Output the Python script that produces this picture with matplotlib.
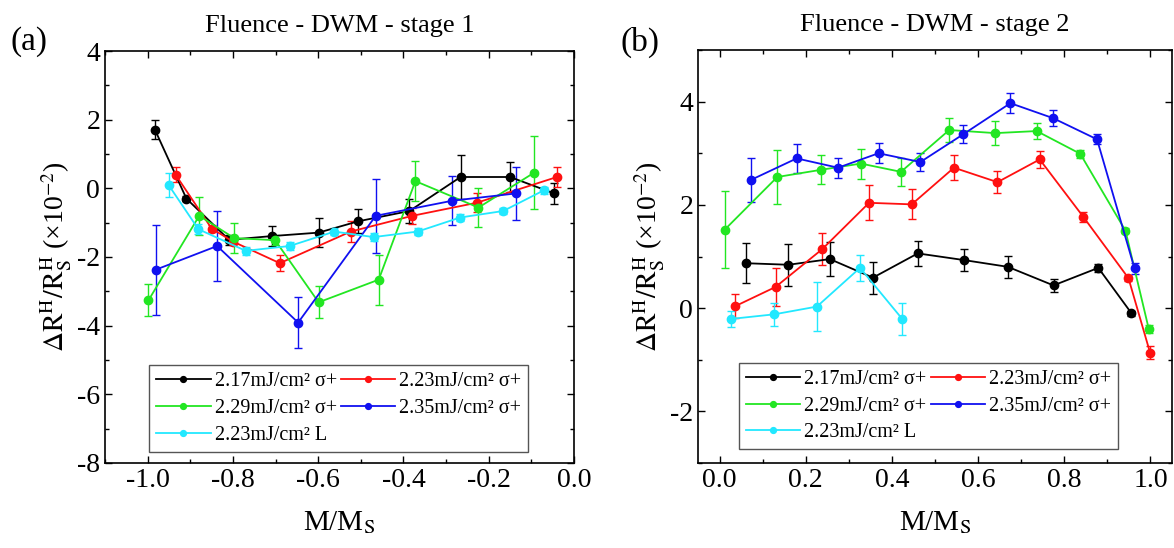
import numpy as np
import matplotlib.pyplot as plt
from matplotlib.ticker import MultipleLocator

plt.rcParams['font.family'] = ['Liberation Serif', 'DejaVu Serif']
plt.rcParams['mathtext.fontset'] = 'stix'
plt.rcParams['axes.unicode_minus'] = False

labels = ['2.17mJ/cm\u00b2 \u03c3+', '2.23mJ/cm\u00b2 \u03c3+', '2.29mJ/cm\u00b2 \u03c3+',
          '2.35mJ/cm\u00b2 \u03c3+', '2.23mJ/cm\u00b2 L']
colors = ['black', '#ff1010', '#22e622', '#1010f0', '#22e8ff']

# stage 1 (panel a)
a_x_k = [-0.983, -0.909, -0.809, -0.708, -0.599, -0.506, -0.386, -0.266, -0.150, -0.046]
a_y_k = [1.71, -0.30, -1.50, -1.39, -1.29, -0.96, -0.66, 0.33, 0.33, -0.15]
a_e_k = [0.27, 0.08, 0.15, 0.28, 0.42, 0.35, 0.34, 0.64, 0.43, 0.30]

a_x_r = [-0.934, -0.850, -0.800, -0.690, -0.524, -0.379, -0.228, -0.040]
a_y_r = [0.39, -1.17, -1.55, -2.18, -1.26, -0.80, -0.42, 0.33]
a_e_r = [0.22, 0.10, 0.10, 0.24, 0.31, 0.24, 0.27, 0.29]

a_x_g = [-0.998, -0.879, -0.797, -0.701, -0.599, -0.458, -0.372, -0.224, -0.093]
a_y_g = [-3.26, -0.80, -1.45, -1.51, -3.32, -2.66, 0.21, -0.56, 0.46]
a_e_g = [0.46, 0.56, 0.44, 0.15, 0.47, 0.73, 0.58, 0.58, 1.06]

a_x_b = [-0.981, -0.837, -0.647, -0.465, -0.285, -0.137]
a_y_b = [-2.37, -1.68, -3.91, -0.80, -0.36, -0.15]
a_e_b = [1.31, 1.03, 0.74, 1.07, 0.71, 0.76]

a_x_c = [-0.951, -0.881, -0.770, -0.667, -0.562, -0.470, -0.367, -0.267, -0.166, -0.071]
a_y_c = [0.10, -1.19, -1.82, -1.68, -1.26, -1.42, -1.26, -0.85, -0.66, -0.06]
a_e_c = [0.36, 0.15, 0.12, 0.12, 0.10, 0.12, 0.10, 0.10, 0.10, 0.10]

# stage 2 (panel b)
b_x_k = [0.061, 0.160, 0.256, 0.356, 0.460, 0.568, 0.669, 0.775, 0.879, 0.956]
b_y_k = [0.87, 0.84, 0.95, 0.59, 1.06, 0.93, 0.80, 0.44, 0.78, -0.10]
b_e_k = [0.39, 0.41, 0.33, 0.31, 0.24, 0.22, 0.21, 0.12, 0.08, 0.05]

b_x_r = [0.037, 0.130, 0.238, 0.347, 0.446, 0.544, 0.645, 0.743, 0.844, 0.949, 0.999]
b_y_r = [0.04, 0.41, 1.14, 2.04, 2.01, 2.72, 2.44, 2.88, 1.77, 0.58, -0.86]
b_e_r = [0.23, 0.36, 0.31, 0.34, 0.29, 0.24, 0.21, 0.17, 0.10, 0.06, 0.12]

b_x_g = [0.012, 0.134, 0.236, 0.328, 0.421, 0.533, 0.640, 0.736, 0.837, 0.942, 0.996]
b_y_g = [1.52, 2.54, 2.68, 2.80, 2.64, 3.45, 3.39, 3.43, 2.99, 1.50, -0.40]
b_e_g = [0.75, 0.52, 0.28, 0.29, 0.27, 0.23, 0.23, 0.15, 0.08, 0.05, 0.08]

b_x_b = [0.072, 0.179, 0.275, 0.369, 0.466, 0.566, 0.675, 0.774, 0.876, 0.963]
b_y_b = [2.48, 2.90, 2.72, 3.00, 2.83, 3.37, 3.97, 3.68, 3.27, 0.77]
b_e_b = [0.43, 0.28, 0.19, 0.19, 0.17, 0.18, 0.19, 0.15, 0.10, 0.10]

b_x_c = [0.026, 0.127, 0.226, 0.326, 0.424]
b_y_c = [-0.21, -0.12, 0.03, 0.78, -0.21]
b_e_c = [0.16, 0.22, 0.47, 0.25, 0.31]

panel_a = [(a_x_k, a_y_k, a_e_k), (a_x_r, a_y_r, a_e_r), (a_x_g, a_y_g, a_e_g),
           (a_x_b, a_y_b, a_e_b), (a_x_c, a_y_c, a_e_c)]
panel_b = [(b_x_k, b_y_k, b_e_k), (b_x_r, b_y_r, b_e_r), (b_x_g, b_y_g, b_e_g),
           (b_x_b, b_y_b, b_e_b), (b_x_c, b_y_c, b_e_c)]

fig = plt.figure(figsize=(11.74, 5.48), dpi=100)
ax1 = fig.add_axes([105/1174, 85/548, 469/1174, 412/548])
ax2 = fig.add_axes([698/1174, 85/548, 474/1174, 413/548])

def draw(ax, series, title, xlim, ylim, legpos):
    hs = []
    for (x, y, e), c, lab in zip(series, colors, labels):
        h = ax.errorbar(x, y, yerr=e, color=c, marker='o', ms=6, lw=1.3,
                        elinewidth=1.0, capsize=3, capthick=1.0, label=lab)
        hs.append(h[0])
    ax.set_xlim(*xlim)
    ax.set_ylim(*ylim)
    ax.xaxis.set_major_locator(MultipleLocator(0.2))
    ax.xaxis.set_minor_locator(MultipleLocator(0.1))
    ax.yaxis.set_major_locator(MultipleLocator(2))
    ax.yaxis.set_minor_locator(MultipleLocator(1))
    ax.xaxis.set_major_formatter(plt.FormatStrFormatter('%.1f'))
    ax.tick_params(which='both', direction='in', top=True, right=True, labelsize=20, width=1)
    ax.tick_params(which='major', length=5)
    ax.tick_params(which='minor', length=3)
    for s in ax.spines.values():
        s.set_linewidth(1.2)
    ax.set_title(title, fontsize=19, pad=14)
    ax.set_xlabel('M/M$_\\mathrm{S}$', fontsize=21, labelpad=12)
    ax.set_ylabel('$\\Delta\\mathrm{R^H/R_S^H}$ (\u00d710$^{-2}$)', fontsize=20, labelpad=2)
    order = [0, 2, 4, 1, 3]
    leg = ax.legend([hs[i] for i in order], [labels[i] for i in order], ncol=2,
                    loc='lower left', bbox_to_anchor=legpos, borderaxespad=0,
                    fontsize=14.5, fancybox=False, edgecolor='#555555', framealpha=1,
                    handlelength=2.7, handletextpad=0.2, columnspacing=0.2,
                    labelspacing=0.38, borderpad=0.35, markerscale=0.7)
    leg.get_frame().set_linewidth(1.0)

draw(ax1, panel_a, 'Fluence - DWM - stage 1', (-1.1, 0.0), (-8, 4), (0.094, 0.027))
draw(ax2, panel_b, 'Fluence - DWM - stage 2', (-0.05, 1.05), (-3, 5), (0.0865, 0.033))

fig.text(10/1174, 1 - 42/548, '(a)', fontsize=24, va='center', ha='left')
fig.text(620/1174, 1 - 42/548, '(b)', fontsize=24, va='center', ha='left')

fig.savefig('out.png', dpi=100)
